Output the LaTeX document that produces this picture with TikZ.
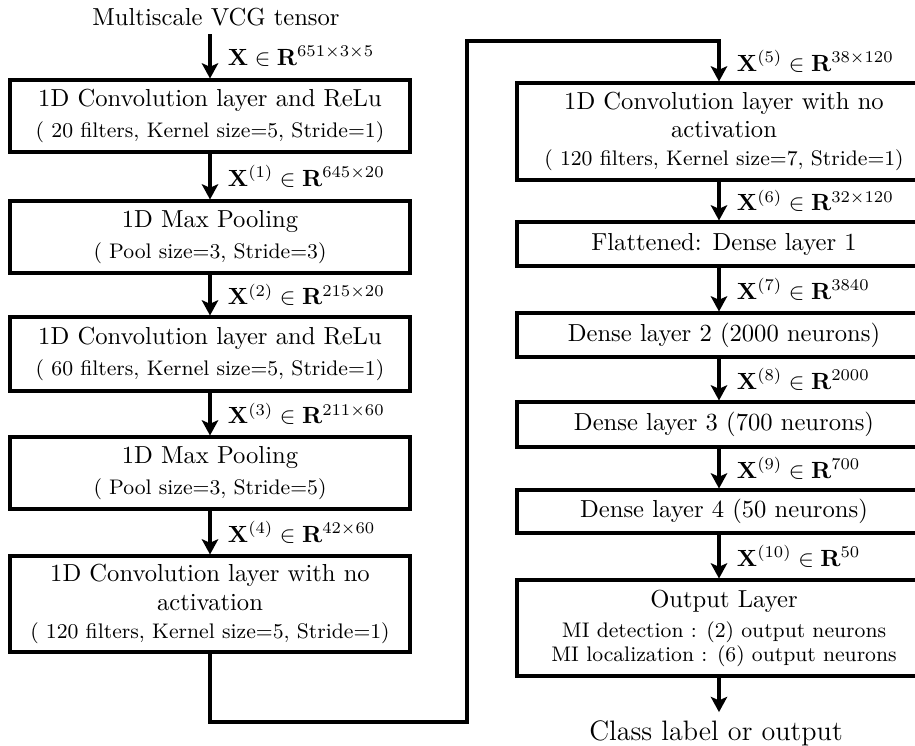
\documentclass[tikz,border=0pt]{standalone}
\usepackage{amsmath}
\usetikzlibrary{arrows.meta}

\tikzset{
    layer/.style={draw, line width=1.3pt, align=center, inner sep=0pt,
        font=\fontsize{10.5pt}{12pt}\selectfont},
    flow/.style={line width=1.3pt, -{Stealth[length=6.5pt, width=7pt, inset=1.5pt]}},
    dim/.style={right, xshift=5pt, inner sep=2pt},
}

\begin{document}
\begin{tikzpicture}[x=0.015cm, y=-0.015cm]
    % parámetros
    \def\lw{400}   % ancho columna izquierda
    \def\rw{414}   % ancho columna derecha

    \useasboundingbox (0,0) rectangle (915,745);

    %—————— Columna izquierda ——————
    \node[font=\fontsize{10.5pt}{12pt}\selectfont] (in) at (216,17) {Multiscale VCG tensor};

    \node[layer, minimum width=\lw*0.015cm, minimum height=72*0.015cm] (conv1) at (210,116)
        {1D Convolution layer and ReLu\\[1pt] {\small ( 20 filters, Kernel size=5, Stride=1)}};
    \node[layer, minimum width=\lw*0.015cm, minimum height=72*0.015cm] (pool1) at (210,237)
        {1D Max Pooling\\[1pt] {\small ( Pool size=3, Stride=3)}};
    \node[layer, minimum width=\lw*0.015cm, minimum height=74*0.015cm] (conv2) at (210,354)
        {1D Convolution layer and ReLu\\[1pt] {\small ( 60 filters, Kernel size=5, Stride=1)}};
    \node[layer, minimum width=\lw*0.015cm, minimum height=72*0.015cm] (pool2) at (210,473)
        {1D Max Pooling\\[1pt] {\small ( Pool size=3, Stride=5)}};
    \node[layer, minimum width=\lw*0.015cm, minimum height=96*0.015cm] (conv3) at (210,604)
        {1D Convolution layer with no\\ activation\\ {\small ( 120 filters, Kernel size=5, Stride=1)}};

    % flechas columna izquierda
    \draw[flow] (in.south -| conv1.north) -- node[dim] {$\mathbf{X}\in\mathbf{R}^{651\times3\times5}$} (conv1.north);
    \draw[flow] (conv1) -- node[dim] {$\mathbf{X}^{(1)}\in\mathbf{R}^{645\times20}$} (pool1);
    \draw[flow] (pool1) -- node[dim] {$\mathbf{X}^{(2)}\in\mathbf{R}^{215\times20}$} (conv2);
    \draw[flow] (conv2) -- node[dim] {$\mathbf{X}^{(3)}\in\mathbf{R}^{211\times60}$} (pool2);
    \draw[flow] (pool2) -- node[dim] {$\mathbf{X}^{(4)}\in\mathbf{R}^{42\times60}$} (conv3);

    %—————— Columna derecha ——————
    \coordinate (rx) at (719,0);    % eje de las flechas
    \coordinate (b1) at (467,722);  % esquina inferior del enlace
    \coordinate (t1) at (467,41);   % esquina superior del enlace

    \node[layer, minimum width=\rw*0.015cm, minimum height=97*0.015cm] (conv4) at (724,131.5)
        {1D Convolution layer with no\\ activation\\ {\small ( 120 filters, Kernel size=7, Stride=1)}};
    \node[layer, minimum width=\rw*0.015cm, minimum height=44*0.015cm] (flat) at (724,244)
        {Flattened: Dense layer 1};
    \node[layer, minimum width=\rw*0.015cm, minimum height=44*0.015cm] (dense2) at (724,335)
        {Dense layer 2 (2000 neurons)};
    \node[layer, minimum width=\rw*0.015cm, minimum height=45*0.015cm] (dense3) at (724,424.5)
        {Dense layer 3 (700 neurons)};
    \node[layer, minimum width=\rw*0.015cm, minimum height=43*0.015cm] (dense4) at (724,511.5)
        {Dense layer 4 (50 neurons)};
    \node[layer, minimum width=\rw*0.015cm, minimum height=96*0.015cm] (outl) at (724,628)
        {Output Layer\\[1pt] {\small MI detection : (2) output neurons}\\[-2pt] {\small MI localization : (6) output neurons}};

    \node[font=\large] (out) at (716,733) {Class label or output};

    % enlace entre columnas
    \draw[flow] (conv3.south) |- (b1) -- (t1) -| node[dim, pos=0.75] {$\mathbf{X}^{(5)}\in\mathbf{R}^{38\times120}$} (conv4.north -| rx);

    % flechas columna derecha
    \draw[flow] (conv4.south -| rx) -- node[dim] {$\mathbf{X}^{(6)}\in\mathbf{R}^{32\times120}$} (flat.north -| rx);
    \draw[flow] (flat.south -| rx) -- node[dim] {$\mathbf{X}^{(7)}\in\mathbf{R}^{3840}$} (dense2.north -| rx);
    \draw[flow] (dense2.south -| rx) -- node[dim] {$\mathbf{X}^{(8)}\in\mathbf{R}^{2000}$} (dense3.north -| rx);
    \draw[flow] (dense3.south -| rx) -- node[dim] {$\mathbf{X}^{(9)}\in\mathbf{R}^{700}$} (dense4.north -| rx);
    \draw[flow] (dense4.south -| rx) -- node[dim] {$\mathbf{X}^{(10)}\in\mathbf{R}^{50}$} (outl.north -| rx);
    \draw[flow] (outl.south -| rx) -- (out.north -| rx);
\end{tikzpicture}
\end{document}
